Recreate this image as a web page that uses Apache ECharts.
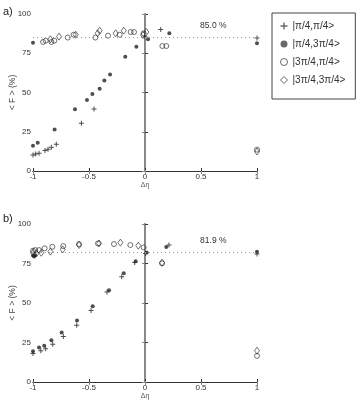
<!DOCTYPE html>
<html>
<head>
<meta charset="utf-8">
<script src="https://cdn.jsdelivr.net/npm/echarts@6/dist/echarts.min.js"></script>
<style>
  html, body { margin: 0; padding: 0; background: #fff; }
  #chart { width: 356px; height: 400px; }
</style>
</head>
<body>
<div id="chart"></div>
<script>
// legend names
var names = ["|\u03c0/4,\u03c0/4>", "|\u03c0/4,3\u03c0/4>", "|3\u03c0/4,\u03c0/4>", "|3\u03c0/4,3\u03c0/4>"];
var xTicks = [-1, -0.5, 0, 0.5, 1];
var yTicks = [0, 25, 50, 75, 100];

// panel a) [dEta, F%]
var aPlus = [[-1, 10.2], [-0.976, 10.8], [-0.946, 11.3], [-0.893, 13.0], [-0.866, 13.8], [-0.836, 15.1],
  [-0.792, 17.0], [-0.568, 30.4], [-0.455, 39.5], [0.0, 85.5], [0.14, 90.2], [1, 84.7]];
var aStar = [[-1, 16.1], [-1, 81.7], [-0.958, 18.0], [-0.807, 26.5], [-0.625, 39.3], [-0.518, 45.2],
  [-0.470, 49.0], [-0.405, 52.4], [-0.363, 57.7], [-0.312, 61.4], [-0.176, 72.8], [-0.077, 79.2],
  [0.027, 83.9], [0.217, 87.7], [1, 81.3]];
var aCircle = [[-0.91, 82.2], [-0.887, 83.0], [-0.836, 82.2], [-0.81, 83.0], [-0.69, 85.0], [-0.637, 86.8],
  [-0.443, 85.0], [-0.33, 86.2], [-0.226, 86.8], [-0.128, 88.5], [-0.098, 88.5], [-0.012, 87.7],
  [0.155, 79.6], [0.19, 79.6], [1, 13.6]];
var aDiamond = [[-0.845, 83.9], [-0.768, 85.6], [-0.619, 86.8], [-0.423, 87.7], [-0.405, 89.4],
  [-0.262, 87.7], [-0.19, 89.4], [0.012, 88.5], [-0.018, 86.6], [1, 12.4]];

// panel b)
var bPlus = [[-1, 18.0], [-0.93, 19.7], [-0.887, 21.1], [-0.824, 23.9], [-0.729, 28.8], [-0.61, 35.9],
  [-0.482, 45.2], [-0.339, 56.9], [-0.208, 66.6], [-0.092, 75.7], [0.006, 81.4], [0.214, 86.7], [1, 81.0]];
var bStar = [[-1, 80.0], [-0.99, 79.5], [-0.98, 80.2], [-1, 19.5], [-0.946, 21.8], [-0.90, 23.0],
  [-0.836, 26.4], [-0.744, 31.3], [-0.607, 38.9], [-0.467, 48.0], [-0.321, 58.1], [-0.19, 68.9],
  [-0.083, 76.5], [0.015, 82.0], [0.19, 85.4], [1, 82.5]];
var bCircle = [[-1, 83.1], [-0.98, 83.5], [-0.946, 83.5], [-0.896, 84.6], [-0.827, 85.6], [-0.73, 86.0],
  [-0.589, 87.3], [-0.42, 87.7], [-0.277, 87.3], [-0.131, 86.7], [-0.012, 85.2], [0.152, 75.1], [1, 16.5]];
var bDiamond = [[-1, 81.8], [-0.97, 81.4], [-0.926, 81.8], [-0.845, 82.5], [-0.735, 83.9], [-0.589, 86.7],
  [-0.41, 87.7], [-0.22, 88.2], [-0.06, 86.3], [0.152, 75.5], [1, 19.8]];

// reference levels
var aLevel = 85.0;
var bLevel = 81.9;

var chart = echarts.init(document.getElementById("chart"));

var ink = "#222";
var font = "Liberation Sans";
var plusPath = "path://M4,0h2v4h4v2h-4v4h-2v-4h-4v-2h4z";
var txt = { fontFamily: font, fontSize: 8, color: "#333" };

function xAxes(gi) {
  return [{
    gridIndex: gi, type: "value", min: -1, max: 1, interval: 0.5,
    name: "\u0394\u03b7", nameLocation: "middle", nameGap: 11, nameMoveOverlap: false,
    nameTextStyle: { fontFamily: font, fontSize: 7, color: "#555" },
    axisLine: { show: true, lineStyle: { color: "#333", width: 1 } },
    axisTick: { show: true, inside: true, length: 3, lineStyle: { color: "#333" } },
    axisLabel: Object.assign({ margin: 2, formatter: function (v) { return String(v); } }, txt),
    splitLine: { show: false }
  }, {
    gridIndex: gi, type: "value", min: -1, max: 1, interval: 0.5, position: "top",
    axisLine: { show: true, lineStyle: { color: "#333", width: 1 } },
    axisTick: { show: true, inside: true, length: 3, lineStyle: { color: "#888" } },
    axisLabel: { show: false }, splitLine: { show: false }
  }];
}

function yAxes(gi) {
  return [{
    gridIndex: gi, type: "value", min: 0, max: 100, interval: 25,
    name: "< F > (%)", nameLocation: "middle", nameGap: 16, nameRotate: 90, nameMoveOverlap: false,
    nameTextStyle: { fontFamily: font, fontSize: 8.5, color: "#444" },
    axisLine: { show: true, lineStyle: { color: "#333", width: 1 } },
    axisTick: { show: true, inside: true, length: 3, lineStyle: { color: "#333" } },
    axisLabel: Object.assign({ margin: 2 }, txt),
    splitLine: { show: false }
  }, {
    gridIndex: gi, type: "value", min: 0, max: 100, interval: 25, position: "right",
    axisLine: { show: true, lineStyle: { color: "#888", width: 2 } },
    axisTick: { show: true, inside: true, length: 3, lineStyle: { color: "#888" } },
    axisLabel: { show: false }, splitLine: { show: false }
  }];
}

function sets(gi, plus, star, circle, diamond, level) {
  var xi = gi * 2, yi = gi * 2;
  return [{
    name: names[0], type: "scatter", xAxisIndex: xi, yAxisIndex: yi, data: plus,
    symbol: plusPath, symbolSize: 5, itemStyle: { color: ink },
    markLine: {
      silent: true, symbol: "none", label: { show: false },
      lineStyle: { color: "#999", type: [1, 3], width: 1 },
      data: [{ yAxis: level }, { xAxis: 0 }]
    },
    markPoint: {
      symbol: "circle", symbolSize: 0,
      label: { show: true, formatter: level.toFixed(1) + " %", fontFamily: font, fontSize: 8.5, color: "#333" },
      data: [{ coord: [0.61, gi === 0 ? 92.5 : 89.5] }]
    },
    z: 3
  }, {
    name: names[1], type: "scatter", xAxisIndex: xi, yAxisIndex: yi, data: star,
    symbol: "circle", symbolSize: 4, itemStyle: { color: ink }, z: 4
  }, {
    name: names[2], type: "scatter", xAxisIndex: xi, yAxisIndex: yi, data: circle,
    symbol: "circle", symbolSize: 5,
    itemStyle: { color: "transparent", borderColor: ink, borderWidth: 0.8 }, z: 2
  }, {
    name: names[3], type: "scatter", xAxisIndex: xi, yAxisIndex: yi, data: diamond,
    symbol: "diamond", symbolSize: [5, 7],
    itemStyle: { color: "transparent", borderColor: ink, borderWidth: 0.8 }, z: 2
  }];
}

var legendItems = [
  { name: names[0], icon: plusPath, itemStyle: { color: "#444" } },
  { name: names[1], icon: "circle", itemStyle: { color: "#444" } },
  { name: names[2], icon: "circle", itemStyle: { color: "#fff", borderColor: "#444", borderWidth: 1 } },
  { name: names[3], icon: "diamond", itemStyle: { color: "#fff", borderColor: "#444", borderWidth: 1 } }
];

chart.setOption({
  animation: false,
  backgroundColor: "#fff",
  title: [
    { text: "a)", left: -2, top: 1, textStyle: { fontFamily: font, fontSize: 11, fontWeight: "normal", color: "#222" } },
    { text: "b)", left: -2, top: 208, textStyle: { fontFamily: font, fontSize: 11, fontWeight: "normal", color: "#222" } }
  ],
  legend: {
    orient: "vertical", left: 272, top: 13,
    data: legendItems,
    itemWidth: 7, itemHeight: 7, itemGap: 8,
    padding: [8, 10, 14, 8],
    borderColor: "#444", borderWidth: 1,
    textStyle: { fontFamily: font, fontSize: 10, color: "#333" }
  },
  grid: [
    { left: 33, top: 14, width: 224, height: 157, outerBoundsMode: "none" },
    { left: 33, top: 224, width: 224, height: 158, outerBoundsMode: "none" }
  ],
  xAxis: xAxes(0).concat(xAxes(1)),
  yAxis: yAxes(0).concat(yAxes(1)),
  series: sets(0, aPlus, aStar, aCircle, aDiamond, aLevel)
    .concat(sets(1, bPlus, bStar, bCircle, bDiamond, bLevel))
});
</script>
</body>
</html>
